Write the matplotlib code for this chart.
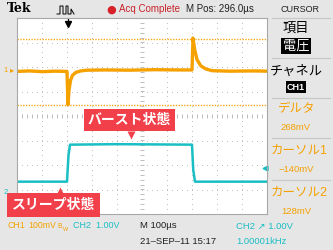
import numpy as np
import matplotlib.pyplot as plt
from matplotlib.lines import Line2D

plt.rcParams['font.family'] = ['Liberation Sans', 'Noto Sans CJK JP', 'DejaVu Sans']

W, H = 333, 250

# --- data (in divisions: 10 horizontal x 8 vertical, center = 0) ---
ch1_t = [0.0, 0.5, 1.0, 1.5, 2.0, 2.04, 2.08, 2.14, 2.22, 2.35, 2.55, 2.8, 3.5,
         4.5, 5.5, 6.5, 7.0, 7.04, 7.1, 7.2, 7.35, 7.55, 7.8, 8.5, 9.5, 10.0]
ch1_v = [1.82, 1.84, 1.81, 1.83, 1.82, 0.46, 1.05, 1.45, 1.66, 1.78, 1.84, 1.87, 1.88,
         1.87, 1.89, 1.88, 1.88, 3.18, 2.75, 2.3, 2.05, 1.92, 1.85, 1.83, 1.84, 1.83]
ch2_t = [0.0, 2.0, 2.06, 2.12, 4.0, 7.0, 7.05, 7.12, 8.5, 10.0]
ch2_v = [-2.68, -2.68, -1.6, -1.17, -1.15, -1.17, -2.2, -2.68, -2.68, -2.68]
cursor1 = 0.46   # -140mV
cursor2 = 3.14   # 128mV

ORANGE = '#f5a100'
CYAN = '#19bfc4'
RED = '#f2404b'
BG = '#e6e6e6'


def fx(x):
    return x / W


def fy(y):
    return 1 - y / H


fig = plt.figure(figsize=(3.33, 2.5), dpi=100, facecolor=BG)

ax = fig.add_axes([fx(17), fy(214), 250 / W, 196 / H])
ax.set_xlim(0, 10)
ax.set_ylim(-4, 4)
ax.set_facecolor('white')
ax.set_xticks([])
ax.set_yticks([])
for s in ax.spines.values():
    s.set_color('#a8a8a8')
    s.set_linewidth(0.8)

# graticule dots
gcol = '#bdbdbd'
for gx in range(1, 10):
    ys = np.arange(-4, 4.01, 0.2)
    ax.plot([gx] * len(ys), ys, ls='none', marker='s', ms=0.7, mec='none', mfc=gcol)
for gy in range(-3, 4):
    xs = np.arange(0, 10.01, 0.2)
    ax.plot(xs, [gy] * len(xs), ls='none', marker='s', ms=0.7, mec='none', mfc=gcol)
# center cross ticks
xs = np.arange(0, 10.01, 0.2)
ax.plot(xs, [0] * len(xs), ls='none', marker='|', ms=3.2, mew=0.7, color=gcol)
ys = np.arange(-4, 4.01, 0.2)
ax.plot([5] * len(ys), ys, ls='none', marker='_', ms=3.2, mew=0.7, color=gcol)

# cursor lines
ax.axhline(cursor1, color=ORANGE, lw=1.0, ls=(0, (1, 1)), alpha=0.9)
ax.axhline(cursor2, color=ORANGE, lw=1.0, ls=(0, (1, 1)), alpha=0.9)

# traces
ax.plot(ch1_t, ch1_v, color=ORANGE, lw=2.4, solid_joinstyle='round')
ax.plot(ch2_t, ch2_v, color=CYAN, lw=1.8, solid_joinstyle='round')

# trigger position arrow
ax.plot([2.04], [3.75], marker='v', ms=4, color='black', clip_on=False)
ax.plot([2.04, 2.04], [3.75, 3.95], color='black', lw=0.9)
# trigger level marker
ax.plot([9.9], [-2.14], marker='<', ms=3.5, color=CYAN, clip_on=False)

# callouts
ax.text(4.5, -0.17, 'バースト状態', color='white', fontsize=10, fontweight='bold',
        ha='center', va='center',
        bbox=dict(boxstyle='square,pad=0.3', fc=RED, ec='none'))
ax.plot([4.55], [-0.78], marker='v', ms=6, color=RED, mec='none')
ax.text(1.45, -3.62, 'スリープ状態', color='white', fontsize=10, fontweight='bold',
        ha='center', va='center', clip_on=False,
        bbox=dict(boxstyle='square,pad=0.35', fc=RED, ec='none'))
ax.plot([1.7], [-3.07], marker='^', ms=6, color=RED, mec='none')

# channel ground markers (left of graticule)
fig.text(fx(6), fy(70), '1', color=ORANGE, fontsize=5.5, ha='center', va='center')
fig.text(fx(12), fy(70), '▸', color=ORANGE, fontsize=6, ha='center', va='center',
         family='DejaVu Sans')
fig.text(fx(6), fy(192), '2', color=CYAN, fontsize=5.5, ha='center', va='center')

# header
fig.text(fx(7), fy(9), 'Tek', fontsize=9, fontweight='bold', family='DejaVu Serif',
         va='center', ha='left')
px = [57, 60, 60, 63, 63, 66, 66, 68, 68, 71, 71, 74]
py = [14, 14, 6, 6, 14, 14, 6, 6, 14, 14, 9, 14]
fig.add_artist(Line2D([fx(v) for v in px], [fy(v) for v in py], color='black', lw=0.7))
fig.text(fx(111.5), fy(9.5), '●', color='#d8222a', fontsize=8, ha='center', va='center',
         family='DejaVu Sans')
fig.text(fx(119), fy(9.5), 'Acq Complete', color='#c8242b', fontsize=7, va='center')
fig.text(fx(186), fy(9.5), 'M Pos: 296.0\u00b5s', color='#202020', fontsize=7, va='center')

# right menu panel
fig.text(fx(300), fy(10), 'CURSOR', fontsize=6.5, ha='center', va='center', color='#202020')
for yy in [18, 58, 98, 138, 180]:
    fig.add_artist(Line2D([fx(272), fx(330)], [fy(yy), fy(yy)], color='#c8c8c8', lw=0.9))
fig.text(fx(296), fy(29), '項目', fontsize=9.5, ha='center', va='center', color='black')
fig.text(fx(296), fy(46), '電圧', fontsize=9.5, ha='center', va='center', color='white',
         bbox=dict(boxstyle='square,pad=0.1', fc='black', ec='none'))
fig.text(fx(296), fy(72), 'チャネル', fontsize=9.5, ha='center', va='center', color='black')
fig.text(fx(296), fy(87), 'CH1', fontsize=6.5, ha='center', va='center', color='white',
         fontweight='bold', bbox=dict(boxstyle='square,pad=0.12', fc='black', ec='none'))
fig.text(fx(297), fy(109), 'デルタ', fontsize=9, ha='center', va='center', color=ORANGE)
fig.text(fx(296), fy(127), '268mV', fontsize=6.8, ha='center', va='center', color=ORANGE)
fig.text(fx(299), fy(151), 'カーソル1', fontsize=9, ha='center', va='center', color=ORANGE)
fig.text(fx(296), fy(169), '\u2212140mV', fontsize=6.8, ha='center', va='center', color=ORANGE)
fig.text(fx(299), fy(193), 'カーソル2', fontsize=9, ha='center', va='center', color=ORANGE)
fig.text(fx(296), fy(211), '128mV', fontsize=6.8, ha='center', va='center', color=ORANGE)

# footer
fig.text(fx(7), fy(226), 'CH1', color=ORANGE, fontsize=6.3, va='center')
fig.text(fx(56.5), fy(226), '100mV', color=ORANGE, fontsize=6.3, va='center', ha='right')
fig.text(fx(57.5), fy(227), 'B', color=ORANGE, fontsize=5, va='center')
fig.text(fx(62.5), fy(229.5), 'W', color=ORANGE, fontsize=4, va='center')
fig.text(fx(73), fy(226), 'CH2  1.00V', color=CYAN, fontsize=6.5, va='center')
fig.text(fx(140), fy(226), 'M 100\u00b5s', color='#202020', fontsize=6.8, va='center')
fig.text(fx(140), fy(241), '21\u2013SEP\u201311 15:17', color='#202020', fontsize=6.8, va='center')
fig.text(fx(236), fy(226), 'CH2 \u2197 1.00V', color=CYAN, fontsize=6.8, va='center',
         family=['Liberation Sans', 'DejaVu Sans'])
fig.text(fx(236), fy(241), '1.00001kHz', color=CYAN, fontsize=6.8, va='center')

fig.savefig('out.png', dpi=100, facecolor=BG)
